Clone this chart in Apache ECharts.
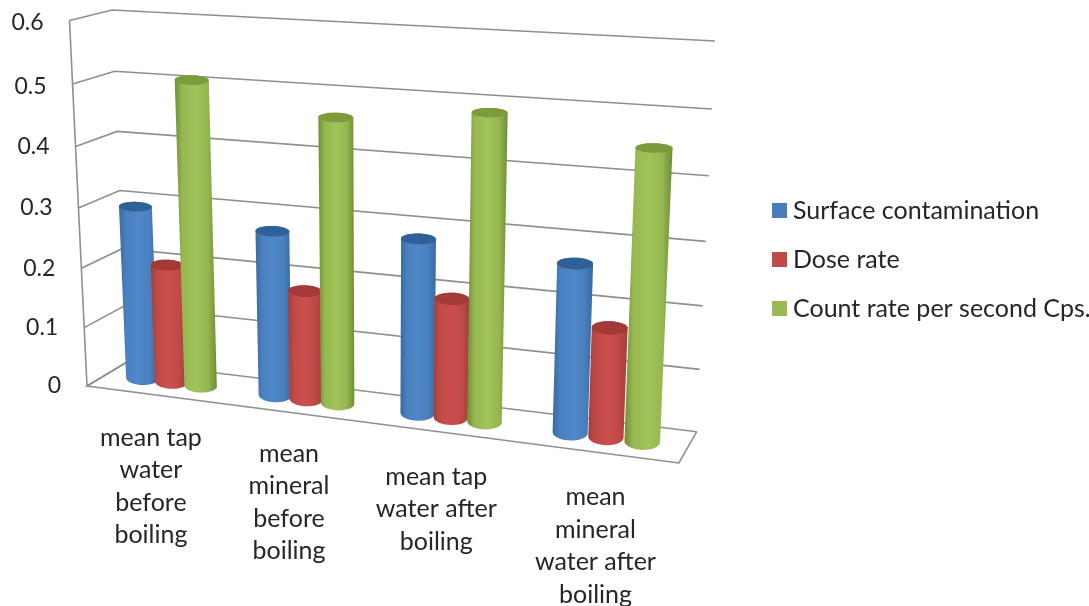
<!DOCTYPE html>
<html><head><meta charset="utf-8">
<style>html,body{margin:0;padding:0;background:#fff}#c{width:1089px;height:606px}</style>
<script src="https://cdn.jsdelivr.net/npm/echarts@6/dist/echarts.min.js"></script>
</head><body><div id="c"></div>
<script>
const categories = ["mean tap\nwater\nbefore\nboiling", "mean\nmineral\nbefore\nboiling", "mean tap\nwater after\nboiling", "mean\nmineral\nwater after\nboiling"];
const seriesNames = ["Surface contamination", "Dose rate", "Count rate per second Cps."];
const surfaceContamination = [0.293, 0.273, 0.282, 0.266];
const doseRate = [0.2, 0.18, 0.192, 0.172];
const countRate = [0.506, 0.462, 0.485, 0.449];
const valueTicks = [0, 0.1, 0.2, 0.3, 0.4, 0.5, 0.6];

const FONT = 'Lato';
const TEXT = '#262626';
const LINE = '#8f8f8f';
// Box corners on screen: [front/back][bottom/top][left/right]
const C = {
  fbl:[87,386], ftl:[69.5,20.5], fbr:[679,463], ftr:[698,52],
  bbl:[127,362], btl:[112,10], bbr:[696.7,431.7], btr:[715,41]
};
const LABEL_NUDGE = [[-1.5,27],[-1,25],[-1,29],[0,29]];
const lerp=(a,b,t)=>[a[0]+(b[0]-a[0])*t,a[1]+(b[1]-a[1])*t];
const persp=(t,k)=>t/(t+k*(1-t));
function P(t,v,z){
  const u=persp(t,1.15), w=persp(v,1.053);
  const fb=lerp(C.fbl,C.fbr,u), ft=lerp(C.ftl,C.ftr,u), bb=lerp(C.bbl,C.bbr,u), bt=lerp(C.btl,C.btr,u);
  return lerp(lerp(fb,ft,w),lerp(bb,bt,w),z);
}
function norm(api,params,cat,val){
  const p=api.coord([cat,val]), g=params.coordSys;
  return [(p[0]-g.x)/g.width,(g.y+g.height-p[1])/g.height];
}
function hull(pts){
  const s=pts.slice().sort((a,b)=>a[0]-b[0]||a[1]-b[1]);
  const cr=(o,a,b)=>(a[0]-o[0])*(b[1]-o[1])-(a[1]-o[1])*(b[0]-o[0]);
  const lo=[],up=[];
  for(const p of s){while(lo.length>1&&cr(lo[lo.length-2],lo[lo.length-1],p)<=0)lo.pop();lo.push(p);}
  for(const p of s.slice().reverse()){while(up.length>1&&cr(up[up.length-2],up[up.length-1],p)<=0)up.pop();up.push(p);}
  return lo.slice(0,-1).concat(up.slice(0,-1));
}
const OFFSET=0.056, R=0.0305, RZ=0.27;
function ellipse(t,v){
  const rr=R*(1.03-0.15*t);
  const c=P(t,v,0.5), l=P(t-rr,v,0.5), r=P(t+rr,v,0.5);
  const dy=Math.abs(P(t,v,0)[1]-P(t,v,1)[1]);
  const ry=Math.max(4.8,dy*RZ), ax=[(r[0]-l[0])/2,(r[1]-l[1])/2*0.25], pts=[];
  for(let i=0;i<40;i++){const a=i/40*2*Math.PI;
    pts.push([c[0]+Math.cos(a)*ax[0],c[1]+Math.cos(a)*ax[1]+Math.sin(a)*ry]);}
  return pts;
}
const palettes=[
 {edge:'#39699f',mid:'#4f87c8',soft:'#4a80bf',top:'#2f6098',key:'#4a7ebb'},
 {edge:'#a33e3c',mid:'#cb4f4c',soft:'#c04a47',top:'#a43a38',key:'#be4b48'},
 {edge:'#6f8d36',mid:'#a1c35a',soft:'#96b850',top:'#7d9b3d',key:'#98b954'}
];
function barRenderer(si){
  return function(params,api){
    const [t0,v]=norm(api,params,api.value(0),api.value(1));
    const t=t0+(si-1)*OFFSET, pal=palettes[si];
    const bot=ellipse(t,0), top=ellipse(t,v);
    return {type:'group',children:[
      {type:'polygon',shape:{points:hull(bot.concat(top))},style:{fill:{type:'linear',x:0,y:0,x2:1,y2:0,colorStops:[
        {offset:0,color:pal.edge},{offset:0.18,color:pal.soft},{offset:0.5,color:pal.mid},{offset:0.78,color:pal.soft},{offset:1,color:pal.edge}]}}},
      {type:'polygon',shape:{points:top},style:{fill:pal.top}}
    ]};
  };
}
function wallRenderer(params,api){
  const [,v]=norm(api,params,0,api.value(0));
  const a=P(0,v,0),b=P(0,v,1),c=P(1,v,1);
  const kids=[{type:'polyline',shape:{points:[a,b,c]},style:{fill:null,stroke:LINE,lineWidth:1.6}},
    {type:'text',style:{text:String(valueTicks[params.dataIndex]),x:a[0]-26,y:a[1]+(v>0.8?2:0),align:'right',verticalAlign:'middle',
      fontFamily:FONT,fontSize:23,fill:TEXT}}];
  if(params.dataIndex===0){
    const d=P(1,0,0);
    kids.push({type:'polyline',shape:{points:[b,a,d,c]},style:{fill:null,stroke:LINE,lineWidth:1.6}});
    kids.push({type:'line',shape:{x1:a[0],y1:a[1],x2:P(0,1,0)[0],y2:P(0,1,0)[1]},style:{stroke:LINE,lineWidth:1.6}});
  }
  return {type:'group',children:kids};
}
function labelRenderer(params,api){
  const [t]=norm(api,params,api.value(0),0);
  const p=P(t,0,0), n=LABEL_NUDGE[params.dataIndex];
  return {type:'text',style:{text:categories[params.dataIndex],x:p[0]+n[0],y:p[1]+n[1],align:'center',verticalAlign:'top',
    fontFamily:FONT,fontSize:25,lineHeight:32.5,fill:TEXT}};
}
const idx=categories.map((_,i)=>i);
const custom=(name,data,renderItem,extra)=>Object.assign({type:'custom',name,data,renderItem,coordinateSystem:'cartesian2d',clip:false,silent:true},extra||{});
const seriesValues=[surfaceContamination,doseRate,countRate];
const chart=echarts.init(document.getElementById('c'),null,{renderer:'canvas'});
chart.setOption({
  animation:false,backgroundColor:'#ffffff',
  grid:{left:87,top:21,width:610,height:365},
  xAxis:{type:'category',data:categories,show:false},
  yAxis:{type:'value',min:0,max:0.6,interval:0.1,show:false},
  legend:{orient:'vertical',left:767,top:193,itemWidth:15,itemHeight:15,itemGap:24,icon:'rect',selectedMode:false,
    data:seriesNames,textStyle:{fontFamily:FONT,fontSize:25,color:TEXT,padding:[0,0,0,1]}},
  series:[
    custom('walls',valueTicks.map(v=>[v]),wallRenderer,{encode:{y:0}}),
    ...seriesNames.map((n,si)=>custom(n,idx.map(i=>[i,seriesValues[si][i]]),barRenderer(si),{itemStyle:{color:palettes[si].key},encode:{x:0,y:1}})),
    custom('labels',idx.map(i=>[i,0]),labelRenderer,{encode:{x:0,y:1}})
  ]
});
</script></body></html>
